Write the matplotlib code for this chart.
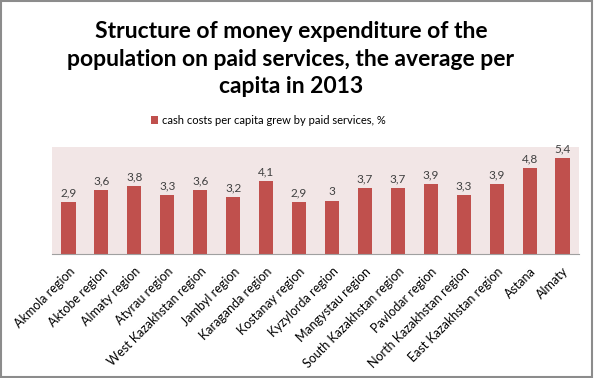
import matplotlib
matplotlib.use("Agg")
import matplotlib.pyplot as plt
import numpy as np

plt.rcParams['font.family'] = ['Lato', 'DejaVu Sans']

regions = ["Akmola region", "Aktobe region", "Almaty region", "Atyrau region",
           "West Kazakhstan region", "Jambyl region", "Karaganda region",
           "Kostanay region", "Kyzylorda region", "Mangystau region",
           "South Kazakhstan region", "Pavlodar region", "North Kazakhstan region",
           "East Kazakhstan region", "Astana", "Almaty"]
growth = [2.9, 3.6, 3.8, 3.3, 3.6, 3.2, 4.1, 2.9, 3.0, 3.7, 3.7, 3.9, 3.3, 3.9, 4.8, 5.4]
series_name = "cash costs per capita grew by paid services, %"

fig = plt.figure(figsize=(5.94, 3.78), dpi=100)
ax = fig.add_axes([52 / 594, 1 - 254 / 378, 527 / 594, 107 / 378])

x = np.arange(len(regions))
bars = ax.bar(x, growth, width=0.43, color="#C0504D", label=series_name)
ax.set_facecolor("#F2E6E6")
ax.set_xlim(-0.5, len(regions) - 0.5)
ax.set_ylim(0, 6)
ax.set_yticks([])
for s in ["top", "left", "right"]:
    ax.spines[s].set_visible(False)
ax.spines["bottom"].set_color("#A0A0A0")

labels = [("%g" % v).replace(".", ",") for v in growth]
for b, lab in zip(bars, labels):
    ax.text(b.get_x() + b.get_width() / 2, b.get_height() + 0.2, lab,
            ha="center", va="bottom", fontsize=8.5, color="#404040")

ax.set_xticks(x)
ax.set_xticklabels(regions, rotation=45, ha="right", rotation_mode="anchor",
                   fontsize=9)
ax.tick_params(axis="x", length=0, pad=8)

fig.text(0.49, 0.945, "Structure of money expenditure of the\npopulation on paid services, the average per\ncapita in 2013",
         ha="center", va="top", fontsize=16.5, fontweight="bold", linespacing=1.4)

ax.legend(loc="center", bbox_to_anchor=(0.41, 1.25), frameon=False,
          fontsize=8, handlelength=0.7, handleheight=0.7, handletextpad=0.3)

fig.add_artist(plt.Rectangle((0.002, 0.003), 0.994, 0.994, transform=fig.transFigure,
                             fill=False, edgecolor="#8C8C8C", linewidth=1.5))

fig.savefig("out.png", dpi=100, facecolor="white")
